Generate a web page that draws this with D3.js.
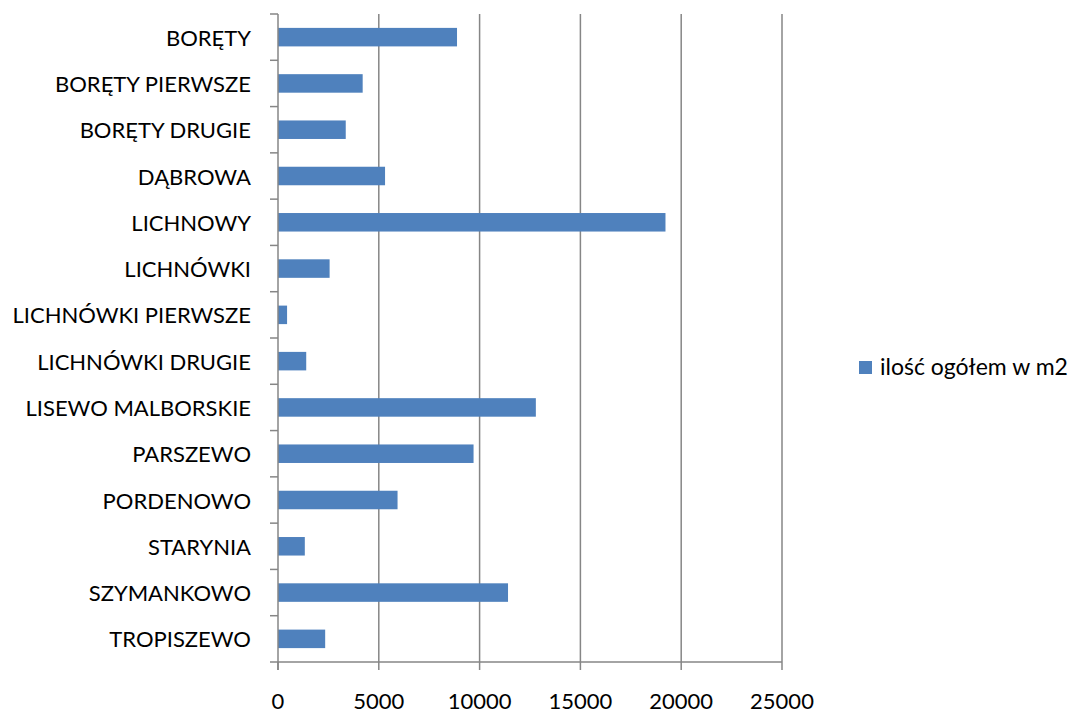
<!DOCTYPE html>
<html>
<head>
<meta charset="utf-8">
<script src="https://cdn.jsdelivr.net/npm/d3@7"></script>
<style>
	body { margin: 0; background: #fff; }
	svg text { font-family: Lato, 'Open Sans', sans-serif; fill: #000; }
</style>
</head>
<body>
<div id="chart"></div>
<script>
const categories = [
	'BORĘTY', 'BORĘTY PIERWSZE', 'BORĘTY DRUGIE', 'DĄBROWA', 'LICHNOWY',
	'LICHNÓWKI', 'LICHNÓWKI PIERWSZE', 'LICHNÓWKI DRUGIE', 'LISEWO MALBORSKIE',
	'PARSZEWO', 'PORDENOWO', 'STARYNIA', 'SZYMANKOWO', 'TROPISZEWO'
]
const values = [
	8880, 4200, 3360, 5310, 19220,
	2560, 450, 1400, 12790,
	9700, 5930, 1330, 11410, 2340
]
const xTicks = [0, 5000, 10000, 15000, 20000, 25000]
const seriesName = 'ilość ogółem w m2'

const w = 1080, h = 713
const m = { left: 278, right: 782, top: 14, bottom: 662 }
const axisColor = '#868686', barColor = '#4F81BD'

const svg = d3.select('#chart').append('svg')
	.attr('width', w)
	.attr('height', h)

const x = d3.scaleLinear().domain([0, 25000]).range([m.left, m.right])
const y = d3.scaleBand().domain(categories).range([m.top, m.bottom]).paddingInner(0.6).paddingOuter(0.3)

// gridlines
svg.append('g')
	.selectAll('line')
	.data(xTicks.slice(1))
	.enter()
	.append('line')
	.attr('x1', d => x(d)).attr('x2', d => x(d))
	.attr('y1', m.top).attr('y2', m.bottom)
	.attr('stroke', axisColor)
	.attr('stroke-width', 1.5)

// bars
svg.append('g')
	.selectAll('rect')
	.data(values)
	.enter()
	.append('rect')
	.attr('x', x(0))
	.attr('y', (d, i) => y(categories[i]))
	.attr('width', d => x(d) - x(0))
	.attr('height', y.bandwidth())
	.attr('fill', barColor)

// y axis
const step = (m.bottom - m.top) / categories.length
const yAxis = svg.append('g')
yAxis.append('line')
	.attr('x1', m.left).attr('x2', m.left)
	.attr('y1', m.top).attr('y2', m.bottom + 8)
	.attr('stroke', axisColor).attr('stroke-width', 1.5)
yAxis.selectAll('line.tick')
	.data(d3.range(categories.length + 1))
	.enter()
	.append('line')
	.attr('class', 'tick')
	.attr('x1', m.left - 8).attr('x2', m.left)
	.attr('y1', i => m.top + i * step).attr('y2', i => m.top + i * step)
	.attr('stroke', axisColor).attr('stroke-width', 1.5)
yAxis.selectAll('text')
	.data(categories)
	.enter()
	.append('text')
	.attr('x', 251)
	.attr('y', d => y(d) + y.bandwidth() / 2 + 8.5)
	.attr('text-anchor', 'end')
	.style('font-size', '22px')
	.text(d => d)

// x axis
const xAxis = svg.append('g')
xAxis.append('line')
	.attr('x1', m.left).attr('x2', m.right)
	.attr('y1', m.bottom).attr('y2', m.bottom)
	.attr('stroke', axisColor).attr('stroke-width', 1.5)
xAxis.selectAll('line.tick')
	.data(xTicks)
	.enter()
	.append('line')
	.attr('class', 'tick')
	.attr('x1', d => x(d)).attr('x2', d => x(d))
	.attr('y1', m.bottom).attr('y2', m.bottom + 8)
	.attr('stroke', axisColor).attr('stroke-width', 1.5)
xAxis.selectAll('text')
	.data(xTicks)
	.enter()
	.append('text')
	.attr('x', d => x(d))
	.attr('y', 709)
	.attr('text-anchor', 'middle')
	.style('font-size', '22px')
	.text(d => d)

// legend
const legend = svg.append('g')
legend.append('rect')
	.attr('x', 859).attr('y', 361)
	.attr('width', 13).attr('height', 13)
	.attr('fill', barColor)
legend.append('text')
	.attr('x', 880)
	.attr('y', 375)
	.style('font-size', '23px')
	.text(seriesName)
</script>
</body>
</html>
